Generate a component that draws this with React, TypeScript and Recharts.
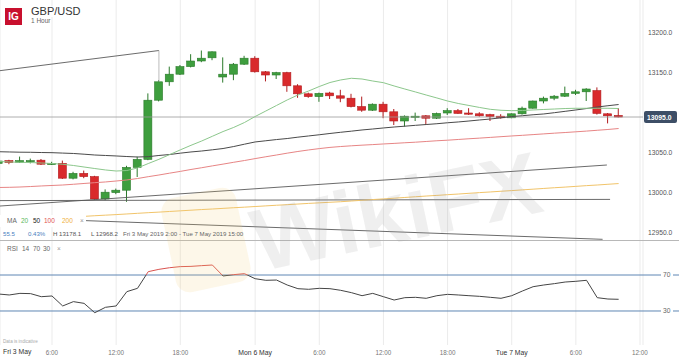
import {
  Bar,
  CartesianGrid,
  ComposedChart,
  Line,
  ReferenceLine,
  XAxis,
  YAxis,
} from "recharts";

if (typeof document !== "undefined") document.body.style.margin = "0";

// hourly slots, Fri 3 May 0:00 = slot 0 (weekend hours skipped)
const slots = [
  1, 2, 3, 4, 5, 6, 7, 8, 9, 10, 11, 12, 13, 14, 15, 16, 17, 18, 19, 20,
  21, 22, 23, 24, 25, 26, 27, 28, 29, 30, 31, 32, 33, 34, 35, 36, 37, 38, 39, 40,
  41, 42, 43, 44, 45, 46, 47, 48, 49, 50, 51, 52, 53, 54, 55, 56, 57, 58, 59,
];

const opens = [
  13037, 13040.5, 13038.5, 13039.5, 13041, 13036, 13037, 13018.5, 13024.5, 13020.5,
  12992.5, 13000.5, 13003.5, 13032, 13042, 13116, 13139, 13148.5, 13158, 13165,
  13169, 13145, 13148.5, 13161, 13168.5, 13151.5, 13147.5, 13150.5, 13134, 13124,
  13120.5, 13125, 13121.5, 13118.5, 13108, 13103.5, 13111, 13101.5, 13090, 13095,
  13096.5, 13093.5, 13100, 13103, 13100, 13099, 13098, 13096, 13094, 13099,
  13106, 13115, 13118.5, 13121, 13124.5, 13126.5, 13128, 13099, 13097,
];
const highs = [
  13041, 13041.5, 13045.5, 13043, 13042.5, 13039, 13040.5, 13026.5, 13028, 13021.5,
  13004.5, 13005.5, 13034, 13045.5, 13124.5, 13141, 13158, 13160, 13173.5, 13178.1,
  13177, 13169.5, 13162.5, 13171.5, 13171, 13152.5, 13151.5, 13151.5, 13136, 13125.5,
  13125.5, 13126.5, 13129, 13124, 13120.5, 13112, 13114, 13105, 13097, 13100.5,
  13097.5, 13100.5, 13106, 13105, 13106, 13101, 13099, 13098.5, 13099.5, 13108,
  13115.5, 13120.5, 13122.5, 13133, 13129, 13131, 13132, 13100, 13106,
];
const lows = [
  13036, 13036, 13037.5, 13037, 13035, 13035, 13017.5, 13017, 13018.5, 12991.5,
  12991, 12998.5, 12989, 13020, 13041, 13114.5, 13134, 13147.5, 13157, 13163.5,
  13166, 13138, 13141, 13160, 13150.5, 13139.5, 13142.5, 13126.5, 13119, 13119,
  13114, 13117.5, 13113.5, 13107, 13101.5, 13102.5, 13093.5, 13085, 13083, 13090,
  13085, 13092.5, 13097.5, 13099, 13097.5, 13095.5, 13090, 13093, 13093.5, 13098,
  13105.5, 13112, 13116, 13120, 13122.5, 13115, 13098, 13087, 13094.5,
];
const closes = [
  13040, 13038, 13040.5, 13040.5, 13036, 13037, 13018.5, 13024.5, 13020.5, 12992.5,
  13001, 13003.5, 13032, 13042, 13116, 13139, 13148.5, 13158, 13165, 13168.5,
  13176.5, 13148.5, 13161, 13168.5, 13151.5, 13147.5, 13150.5, 13134, 13124, 13120.5,
  13124.5, 13121.5, 13118.5, 13108, 13103.5, 13111, 13101.5, 13090, 13096, 13096,
  13093.5, 13099.5, 13103, 13099.5, 13098.5, 13096.5, 13095.5, 13094, 13099, 13106,
  13115, 13118.5, 13121, 13124.5, 13126.5, 13130, 13099.5, 13096.5, 13095,
];

const ma20 = [
  13039.4, 13038.8, 13038.4, 13038.1, 13037.5, 13036.9, 13035.9, 13034.4, 13032.5, 13030.6,
  13028.8, 13027.5, 13028.1, 13031.3, 13036.8, 13042.1, 13048.0, 13053.9, 13059.6, 13065.0,
  13070.9, 13076.8, 13082.0, 13088.1, 13095.6, 13102.5, 13109.4, 13116.3, 13122.5, 13127.5,
  13133.1, 13138.1, 13141.3, 13143.4, 13142.5, 13140.0, 13137.9, 13133.8, 13130.0, 13126.3,
  13122.5, 13118.8, 13115.0, 13111.9, 13109.4, 13106.9, 13104.6, 13103.4, 13102.9, 13103.1,
  13103.8, 13104.4, 13105.0, 13105.6, 13105.9, 13105.9, 13105.9, 13105.9, 13105.6,
];
const ma50 = [
  13051.6, 13051.3, 13051.0, 13050.9, 13050.6, 13050.4, 13049.9, 13049.4, 13048.5, 13047.5,
  13046.9, 13046.3, 13045.6, 13045.0, 13045.4, 13046.9, 13048.1, 13049.8, 13051.3, 13052.5,
  13054.0, 13055.6, 13058.1, 13061.0, 13063.8, 13065.3, 13066.8, 13068.1, 13069.8, 13071.3,
  13072.8, 13074.4, 13075.9, 13077.3, 13078.8, 13080.0, 13081.3, 13082.5, 13083.5, 13084.6,
  13085.6, 13086.6, 13087.8, 13088.8, 13090.0, 13091.3, 13092.5, 13094.0, 13095.6, 13096.6,
  13097.8, 13098.8, 13100.4, 13102.1, 13103.8, 13105.6, 13107.5, 13109.1, 13110.6,
];
const ma100 = [
  13006.9, 13007.1, 13007.5, 13008.1, 13008.8, 13009.4, 13010.0, 13010.9, 13011.9, 13012.9,
  13013.8, 13015.0, 13016.3, 13018.1, 13020.4, 13022.5, 13024.8, 13027.0, 13029.4, 13031.6,
  13033.9, 13036.1, 13038.4, 13040.6, 13043.0, 13045.3, 13047.5, 13049.8, 13051.9, 13053.8,
  13055.5, 13057.0, 13058.1, 13059.0, 13059.8, 13060.5, 13061.3, 13062.0, 13062.8, 13063.5,
  13064.4, 13065.3, 13066.0, 13066.9, 13067.8, 13068.6, 13069.5, 13070.4, 13071.3, 13072.1,
  13073.0, 13073.9, 13074.8, 13075.6, 13076.5, 13077.4, 13078.4, 13079.4, 13080.6,
];
const ma200 = [
  12965.0, 12965.6, 12966.3, 12967.0, 12967.8, 12968.5, 12969.3, 12970.0, 12970.8, 12971.6,
  12972.3, 12973.0, 12973.8, 12974.6, 12975.4, 12976.1, 12976.9, 12977.7, 12978.5, 12979.3,
  12980.0, 12980.8, 12981.6, 12982.3, 12983.1, 12983.9, 12984.7, 12985.4, 12986.2, 12987.0,
  12987.7, 12988.4, 12989.1, 12990.0, 12990.9, 12991.8, 12992.6, 12993.5, 12994.4, 12995.3,
  12996.2, 12997.0, 12997.9, 12998.7, 12999.6, 13000.5, 13001.3, 13002.2, 13003.0, 13003.9,
  13004.8, 13005.7, 13006.6, 13007.4, 13008.3, 13009.2, 13010.0, 13010.9, 13011.8,
];
const rsi = [
  48.9, 47.8, 49.6, 49.3, 45.9, 46.7, 35.6, 40.4, 38.5, 28.1,
  34.1, 35.6, 51.5, 55.2, 73.7, 76.3, 78.1, 79.3, 79.6, 80.4,
  81.1, 68.9, 70.4, 71.5, 65.9, 64.1, 64.4, 58.9, 54.8, 54.1,
  55.2, 54.8, 53.0, 50.4, 47.0, 49.6, 45.9, 42.2, 44.8, 45.2,
  44.1, 47.0, 48.5, 47.8, 47.0, 46.3, 45.2, 44.1, 47.0, 52.2,
  57.0, 58.9, 60.4, 62.2, 63.0, 64.1, 44.8, 43.3, 43.0,
];

// drawn trend lines: [slot, price] pairs
const trendLines = [
  [[1, 13152.7], [16, 13178.1]],
  [[1, 12983.6], [57.9, 13035]],
  [[1, 12990.5], [58.2, 12992]],
  [[1, 12969.4], [57.5, 12942.1]],
];
const spikeLine = [[16, 13178.1], [16, 13139]];

const gridSlots = [6, 12, 18, 25, 31, 37, 43, 49, 55, 61];
const gridLabels = ["6:00", "12:00", "18:00", "Mon 6 May", "6:00", "12:00", "18:00", "Tue 7 May", "6:00", "12:00"];
const priceTicks = [12950, 13000, 13050, 13150, 13200];
const PRICE_DOMAIN = [12941.25, 13241.25];
const RSI_DOMAIN = [-7.78, 107.78];
const X_DOMAIN = [1.136, 61.28];

const FONT = '"Liberation Sans", Arial, sans-serif';
const UP = "#3e9e3e";
const UP_EDGE = "#2b7a2b";
const DOWN = "#d92a2c";
const DOWN_EDGE = "#b11c1f";
const RSI_BLUE = "#5f86b4";

const rows = slots.map((slot, i) => ({
  slot,
  open: opens[i],
  high: highs[i],
  low: lows[i],
  close: closes[i],
  range: [lows[i], highs[i]],
  ma20: ma20[i],
  ma50: ma50[i],
  ma100: ma100[i],
  ma200: ma200[i],
  rsi: rsi[i],
}));

const lastClose = closes[closes.length - 1];
const rsiMax = Math.max(...rsi);
const rsiMin = Math.min(...rsi);
const overboughtStop = (rsiMax - 70) / (rsiMax - rsiMin);

function Candle(props: any) {
  const { x, y, width, height, payload } = props;
  if (!payload || x == null || y == null) return null;
  const { open, close, high, low } = payload;
  const top = Math.min(y, y + height);
  const h = Math.abs(height);
  const k = h / (high - low || 1);
  const up = close >= open;
  const bodyTop = top + (high - Math.max(open, close)) * k;
  const bodyH = Math.max(1.2, Math.abs(open - close) * k);
  const cx = x + width / 2;
  return (
    <g>
      <line x1={cx} x2={cx} y1={top} y2={top + h} stroke={up ? UP_EDGE : DOWN_EDGE} strokeWidth={1} />
      <rect
        x={x}
        y={bodyTop}
        width={width}
        height={bodyH}
        fill={up ? UP : DOWN}
        stroke={up ? UP_EDGE : DOWN_EDGE}
        strokeWidth={0.6}
      />
    </g>
  );
}

function PriceTag(props: any) {
  const vb = props.viewBox || {};
  const right = (vb.x ?? 0) + (vb.width ?? 0);
  const y = vb.y ?? 0;
  return (
    <g>
      <rect x={right + 1} y={y - 6} width={33} height={12} rx={2} fill="#3d4e66" />
      <text x={right + 4} y={y + 2.5} fontSize={6.8} fontWeight={700} fill="#fff" fontFamily={FONT}>
        {lastClose.toFixed(1)}
      </text>
    </g>
  );
}

function TimeTick(props: any) {
  const { x, y, payload } = props;
  const i = gridSlots.indexOf(payload.value);
  const label = gridLabels[i] ?? "";
  const isDay = label.length > 5;
  return (
    <text
      x={x}
      y={y + 6.5}
      textAnchor="middle"
      fontSize={isDay ? 6.8 : 6.3}
      fill={isDay ? "#333" : "#777"}
      fontFamily={FONT}
    >
      {label}
    </text>
  );
}

function LevelTick(props: any) {
  const { x, y, payload } = props;
  return (
    <g>
      <line x1={x} x2={x + 36} y1={y} y2={y} stroke={RSI_BLUE} strokeWidth={1} />
      <rect x={x + 18} y={y - 4} width={12} height={8} fill="#fff" />
      <text x={x + 20} y={y + 2.4} fontSize={6.7} fill="#666" fontFamily={FONT}>
        {payload.value}
      </text>
    </g>
  );
}

const abs = (left: number, top: number, extra: any = {}) => ({
  position: "absolute" as const,
  left,
  top,
  whiteSpace: "nowrap" as const,
  lineHeight: 1,
  ...extra,
});

export default function App() {
  return (
    <div style={{ position: "relative", width: 679, height: 357, background: "#fff", fontFamily: FONT, overflow: "hidden" }}>
      <div style={abs(0, 0)}>
        <ComposedChart width={679} height={241} data={rows} margin={{ top: 0, right: 0, bottom: 1, left: 0 }}>
          <CartesianGrid horizontal={false} stroke="#ebebeb" />
          <XAxis dataKey="slot" type="number" domain={X_DOMAIN} allowDataOverflow ticks={gridSlots} hide />
          <YAxis
            orientation="right"
            width={36}
            domain={PRICE_DOMAIN}
            allowDataOverflow
            ticks={priceTicks}
            interval={0}
            tickFormatter={(v: number) => v.toFixed(1)}
            tick={{ fontSize: 6.7, fill: "#555", fontFamily: FONT }}
            axisLine={false}
            tickLine={false}
            tickSize={0}
            tickMargin={5}
          />
          {trendLines.map((seg, i) => (
            <ReferenceLine
              key={i}
              segment={[{ x: seg[0][0], y: seg[0][1] }, { x: seg[1][0], y: seg[1][1] }]}
              stroke="#5a5a5a"
              strokeWidth={0.9}
              ifOverflow="hidden"
            />
          ))}
          <ReferenceLine
            segment={[{ x: spikeLine[0][0], y: spikeLine[0][1] }, { x: spikeLine[1][0], y: spikeLine[1][1] }]}
            stroke="#aaa"
            strokeWidth={0.8}
            ifOverflow="hidden"
          />
          <ReferenceLine y={lastClose} stroke="#9a9a9a" strokeWidth={0.8} label={<PriceTag />} />
          <Line dataKey="ma200" stroke="#f1c46a" strokeWidth={1} dot={false} activeDot={false} isAnimationActive={false} />
          <Line dataKey="ma100" stroke="#e78585" strokeWidth={1} dot={false} activeDot={false} isAnimationActive={false} />
          <Line dataKey="ma50" stroke="#4a4a4a" strokeWidth={1} dot={false} activeDot={false} isAnimationActive={false} />
          <Line dataKey="ma20" stroke="#8cc78c" strokeWidth={1} dot={false} activeDot={false} isAnimationActive={false} />
          <Bar dataKey="range" barSize={8} shape={<Candle />} isAnimationActive={false} />
        </ComposedChart>
      </div>

      <div style={abs(0, 240, { width: 679, height: 1, background: "#b8b8b8" })} />

      <div style={abs(0, 240)}>
        <ComposedChart width={679} height={117} data={rows} margin={{ top: 1, right: 0, bottom: 0, left: 0 }}>
          <defs>
            <linearGradient id="rsiStroke" x1="0" y1="0" x2="0" y2="1">
              <stop offset={overboughtStop} stopColor="#d9534f" />
              <stop offset={overboughtStop} stopColor="#444" />
            </linearGradient>
          </defs>
          <CartesianGrid horizontal={false} stroke="#ebebeb" />
          <XAxis
            dataKey="slot"
            type="number"
            domain={X_DOMAIN}
            allowDataOverflow
            ticks={gridSlots}
            interval={0}
            tick={<TimeTick />}
            axisLine={false}
            tickLine={false}
            tickSize={0}
            tickMargin={3}
            height={12}
          />
          <YAxis
            orientation="right"
            width={36}
            domain={RSI_DOMAIN}
            allowDataOverflow
            ticks={[30, 70]}
            interval={0}
            tick={<LevelTick />}
            axisLine={false}
            tickLine={false}
            tickSize={0}
            tickMargin={0}
          />
          <ReferenceLine y={70} stroke={RSI_BLUE} strokeWidth={1} />
          <ReferenceLine y={30} stroke={RSI_BLUE} strokeWidth={1} />
          <Line dataKey="rsi" stroke="url(#rsiStroke)" strokeWidth={1} dot={false} activeDot={false} isAnimationActive={false} />
        </ComposedChart>
      </div>

      {/* watermark */}
      <div
        style={abs(168, 192, {
          width: 76,
          height: 96,
          borderRadius: 14,
          background: "rgba(240,205,120,0.16)",
          transform: "rotate(-12deg)",
          pointerEvents: "none",
        })}
      />
      <div
        style={abs(250, 168, {
          fontSize: 88,
          fontWeight: 900,
          color: "rgba(160,160,160,0.17)",
          transform: "rotate(-12deg)",
          pointerEvents: "none",
        })}
      >
        WikiFX
      </div>

      {/* header */}
      <div style={abs(5, 8, { width: 17, height: 17, background: "#c8102e", color: "#fff", fontSize: 10, fontWeight: 700, textAlign: "center", lineHeight: "17px" })}>
        IG
      </div>
      <div style={abs(31, 6, { fontSize: 11, color: "#333", background: "#fff" })}>GBP/USD</div>
      <div style={abs(31, 18, { fontSize: 6.5, color: "#666", background: "#fff" })}>1 Hour</div>

      {/* MA legend */}
      <div style={abs(0, 215, { width: 86, height: 12, background: "#fff" })} />
      <div style={abs(7, 218, { fontSize: 6.5, color: "#666" })}>MA</div>
      <div style={abs(21, 218, { fontSize: 6.5, color: "#5cb85c" })}>20</div>
      <div style={abs(33, 218, { fontSize: 6.5, color: "#222" })}>50</div>
      <div style={abs(44, 218, { fontSize: 6.5, color: "#e05252" })}>100</div>
      <div style={abs(62, 218, { fontSize: 6.5, color: "#f0b040" })}>200</div>
      <div style={abs(80, 218, { fontSize: 6.5, color: "#999" })}>×</div>

      {/* info row */}
      <div style={abs(3, 231, { fontSize: 6.1, color: "#4a80c0" })}>55.5</div>
      <div style={abs(28, 231, { fontSize: 6.1, color: "#4a80c0" })}>0.43%</div>
      <div style={abs(53, 231, { fontSize: 6.1, color: "#555" })}>H 13178.1</div>
      <div style={abs(91, 231, { fontSize: 6.1, color: "#555" })}>L 12968.2</div>
      <div style={abs(123, 231, { fontSize: 6.1, color: "#666" })}>Fri 3 May 2019 2:00 - Tue 7 May 2019 15:00</div>

      {/* RSI legend */}
      <div style={abs(7, 246, { fontSize: 6.5, color: "#666" })}>RSI</div>
      <div style={abs(22, 246, { fontSize: 6.5, color: "#666" })}>14</div>
      <div style={abs(33, 246, { fontSize: 6.5, color: "#666" })}>70</div>
      <div style={abs(43, 246, { fontSize: 6.5, color: "#666" })}>30</div>
      <div style={abs(57, 246, { fontSize: 6.5, color: "#999" })}>×</div>

      <div style={abs(3, 339.5, { fontSize: 4.6, color: "#aaa" })}>Data is indicative</div>
      <div style={abs(3, 349, { fontSize: 6.8, color: "#333" })}>Fri 3 May</div>
    </div>
  );
}
